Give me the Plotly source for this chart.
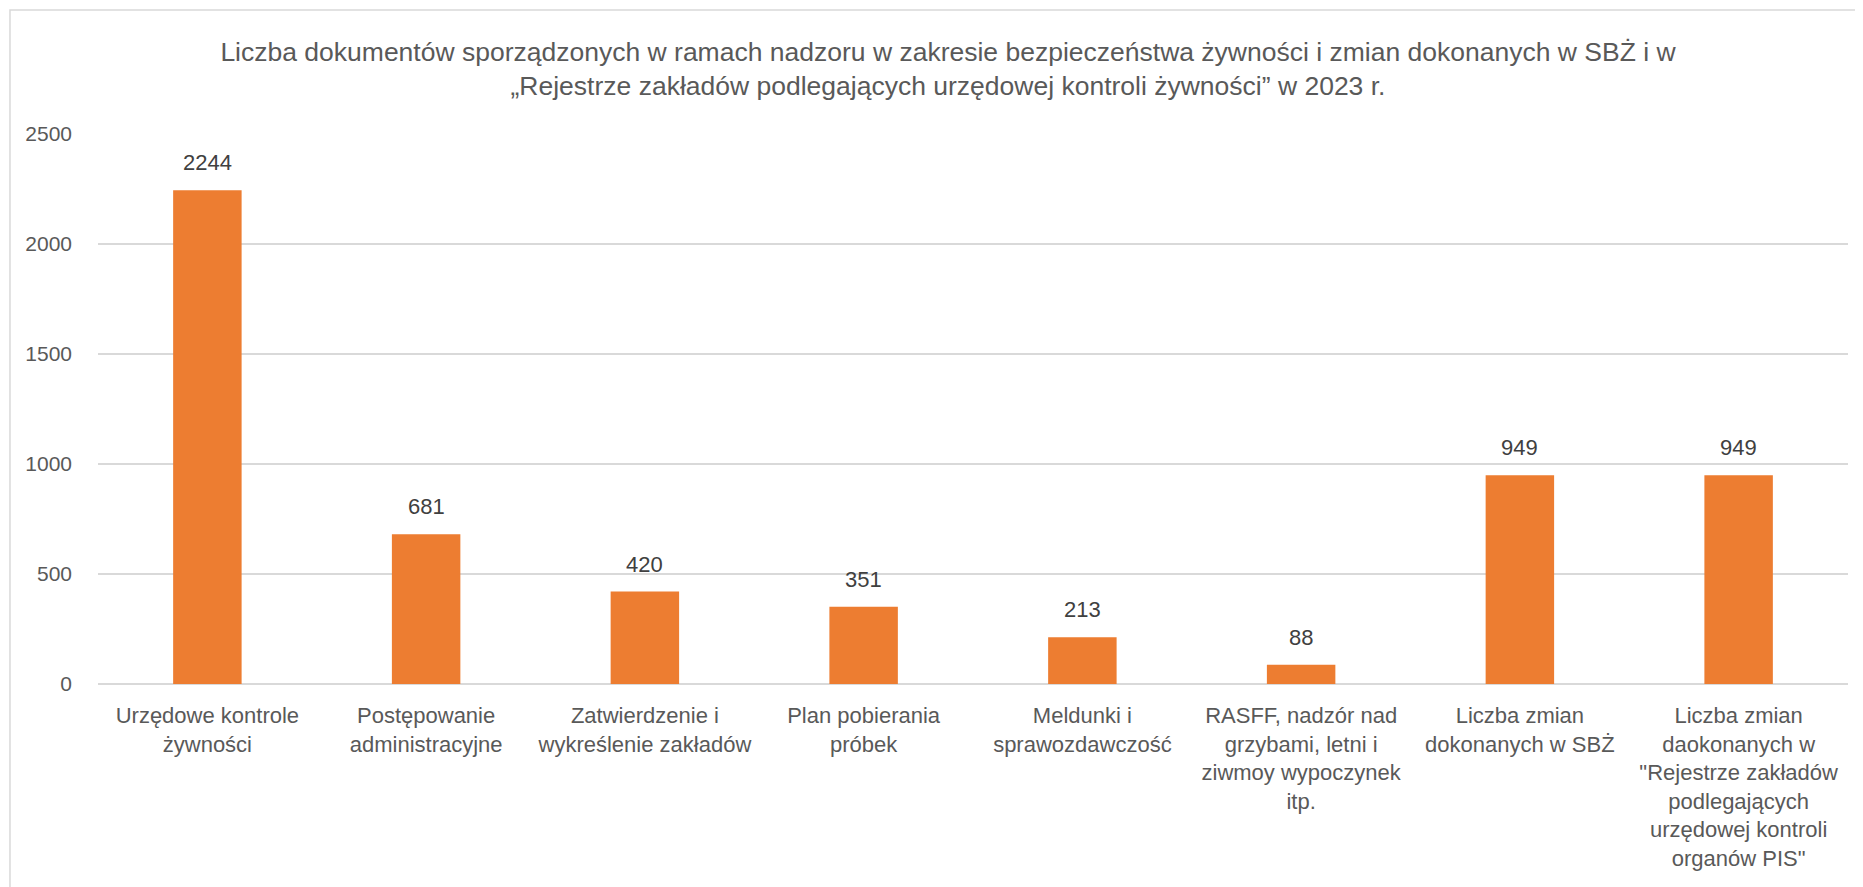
import plotly.graph_objects as go

# Dane
kategorie = [
    "Urzędowe kontrole<br>żywności",
    "Postępowanie<br>administracyjne",
    "Zatwierdzenie i<br>wykreślenie zakładów",
    "Plan pobierania<br>próbek",
    "Meldunki i<br>sprawozdawczość",
    "RASFF, nadzór nad<br>grzybami, letni i<br>ziwmoy wypoczynek<br>itp.",
    "Liczba zmian<br>dokonanych w SBŻ",
    "Liczba zmian<br>daokonanych w<br>\"Rejestrze zakładów<br>podlegających<br>urzędowej kontroli<br>organów PIS\"",
]
wartosci = [2244, 681, 420, 351, 213, 88, 949, 949]
y_ticks = [0, 500, 1000, 1500, 2000, 2500]

tytul = ("Liczba dokumentów sporządzonych w ramach nadzoru w zakresie bezpieczeństwa żywności i zmian dokonanych w SBŻ i w"
         "<br>„Rejestrze zakładów podlegających urzędowej kontroli żywności” w 2023 r.")

FONT = "Liberation Sans"
szary = "#595959"

fig = go.Figure(go.Bar(
    x=kategorie,
    y=wartosci,
    marker=dict(color="#ED7D31", line=dict(width=0)),
    width=0.313,
    hoverinfo="x+y",
))

# Etykiety danych nad słupkami
annotations = []
for k, v in zip(kategorie, wartosci):
    annotations.append(dict(
        x=k, y=v, xref="x", yref="y",
        text=str(v), showarrow=False,
        yanchor="bottom", yshift=13,
        font=dict(family=FONT, size=22, color="#404040"),
    ))

# strona ma margines 8px, więc figura jest mniejsza o 8px
W, H = 1855, 879

fig.update_layout(
    width=W, height=H,
    paper_bgcolor="white", plot_bgcolor="white",
    margin=dict(l=90, r=15, t=126, b=203),
    showlegend=False,
    title=dict(
        text=tytul, x=940 / W, xanchor="center", xref="container",
        y=1 - 53 / H, yanchor="middle", yref="container",
        font=dict(family=FONT, size=26.5, color=szary),
    ),
    xaxis=dict(
        showgrid=False, zeroline=False, showline=False,
        tickfont=dict(family=FONT, size=22, color=szary),
        ticklabelstandoff=16,
    ),
    yaxis=dict(
        range=[0, 2500], tickvals=y_ticks,
        showgrid=True, gridcolor="#D9D9D9", gridwidth=2,
        zeroline=True, zerolinecolor="#D9D9D9", zerolinewidth=2,
        showline=False,
        tickfont=dict(family=FONT, size=21, color=szary),
        ticklabelstandoff=25,
    ),
    annotations=annotations,
    shapes=[dict(
        type="rect", xref="paper", yref="paper",
        x0=-0.0503, x1=1.2, y0=-1.0, y1=1.2255,
        line=dict(color="#D9D9D9", width=1.5), fillcolor="rgba(0,0,0,0)",
        layer="below",
    )],
)

fig.write_html("out.html")
